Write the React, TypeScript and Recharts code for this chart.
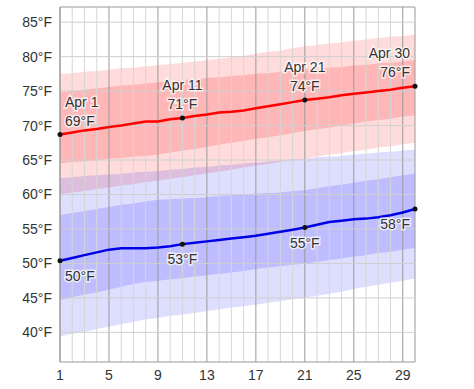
import React from 'react'
import {
  ComposedChart,
  Area,
  Line,
  XAxis,
  YAxis,
  ReferenceLine,
} from 'recharts'

// day of month (April)
const days = [1, 2, 3, 4, 5, 6, 7, 8, 9, 10, 11, 12, 13, 14, 15, 16, 17, 18, 19, 20, 21, 22, 23, 24, 25, 26, 27, 28, 29, 30]

// average daily high / low (°F)
const highAvg = [68.7, 69.0, 69.3, 69.5, 69.8, 70.0, 70.3, 70.6, 70.6, 70.9, 71.1, 71.4, 71.6, 71.9, 72.0, 72.2, 72.5, 72.8, 73.1, 73.4, 73.7, 73.9, 74.1, 74.4, 74.6, 74.8, 75.0, 75.2, 75.5, 75.7]
const lowAvg = [50.4, 50.8, 51.2, 51.6, 52.0, 52.2, 52.2, 52.2, 52.3, 52.5, 52.8, 53.0, 53.2, 53.4, 53.6, 53.8, 54.0, 54.3, 54.6, 54.9, 55.2, 55.6, 56.0, 56.2, 56.4, 56.5, 56.7, 57.0, 57.4, 57.9]

// percentile bands for the high
const high90 = [77.5, 77.6, 77.8, 77.9, 78.1, 78.3, 78.4, 78.6, 78.8, 78.9, 79.1, 79.3, 79.5, 79.7, 79.9, 80.1, 80.4, 80.7, 80.9, 81.2, 81.5, 81.7, 81.9, 82.1, 82.3, 82.5, 82.7, 82.9, 83.0, 83.2]
const high75 = [74.8, 75.0, 75.2, 75.4, 75.6, 75.8, 75.9, 76.1, 76.3, 76.4, 76.6, 76.7, 76.9, 77.0, 77.2, 77.3, 77.5, 77.6, 77.8, 77.9, 78.1, 78.2, 78.4, 78.5, 78.7, 78.8, 79.0, 79.1, 79.3, 79.5]
const high25 = [64.5, 64.7, 64.8, 65.0, 65.2, 65.3, 65.5, 65.6, 65.8, 66.1, 66.4, 66.6, 66.9, 67.2, 67.5, 67.8, 68.1, 68.3, 68.6, 68.9, 69.2, 69.5, 69.7, 70.0, 70.3, 70.6, 70.8, 71.0, 71.3, 71.5]
const high10 = [60.0, 60.3, 60.5, 60.8, 61.0, 61.3, 61.5, 61.8, 62.0, 62.3, 62.5, 62.8, 63.1, 63.3, 63.6, 63.9, 64.2, 64.4, 64.7, 65.0, 65.2, 65.5, 65.8, 66.0, 66.3, 66.5, 66.8, 67.0, 67.3, 67.5]

// percentile bands for the low
const low90 = [62.4, 62.5, 62.7, 62.8, 62.9, 63.0, 63.2, 63.3, 63.4, 63.6, 63.7, 63.9, 64.0, 64.2, 64.3, 64.5, 64.6, 64.8, 64.9, 65.1, 65.2, 65.4, 65.5, 65.6, 65.8, 65.9, 66.1, 66.2, 66.4, 66.5]
const low75 = [57.0, 57.3, 57.6, 57.9, 58.2, 58.5, 58.7, 59.0, 59.2, 59.3, 59.4, 59.5, 59.6, 59.8, 59.9, 60.0, 60.1, 60.2, 60.3, 60.5, 60.6, 60.9, 61.2, 61.4, 61.7, 62.0, 62.2, 62.5, 62.8, 63.0]
const low25 = [44.7, 45.1, 45.5, 45.8, 46.2, 46.6, 47.0, 47.3, 47.5, 47.7, 47.9, 48.1, 48.3, 48.5, 48.7, 48.9, 49.2, 49.4, 49.6, 49.8, 50.0, 50.2, 50.5, 50.7, 51.0, 51.2, 51.5, 51.7, 52.0, 52.2]
const low10 = [39.4, 39.8, 40.1, 40.5, 40.8, 41.2, 41.5, 41.9, 42.1, 42.4, 42.6, 42.8, 43.1, 43.3, 43.6, 43.8, 44.0, 44.3, 44.5, 44.8, 45.0, 45.3, 45.6, 45.9, 46.3, 46.6, 46.9, 47.2, 47.5, 47.8]

const xTicks = [1, 5, 9, 13, 17, 21, 25, 29]
const yTicks = [40, 45, 50, 55, 60, 65, 70, 75, 80, 85]
const labelDays = [1, 11, 21, 30]

const Y_MIN = 35.7
const Y_MAX = 87.2

const data = days.map((d, i) => ({
  day: d,
  high: highAvg[i],
  low: lowAvg[i],
  highOuter: [high10[i], high90[i]],
  highInner: [high25[i], high75[i]],
  lowOuter: [low10[i], low90[i]],
  lowInner: [low25[i], low75[i]],
}))

const FONT = '"Liberation Sans", Arial, sans-serif'

const haloText = (x: number, y: number, text: string, anchor: 'start' | 'middle' | 'end') => (
  <text
    key={text + y}
    x={x}
    y={y}
    textAnchor={anchor}
    fontSize={14}
    fontFamily={FONT}
    fill="#333"
    stroke="#fff"
    strokeWidth={3}
    strokeOpacity={0.7}
    paintOrder="stroke"
  >
    {text}
  </text>
)

const anchorFor = (day: number) => (day === 1 ? 'start' : day === 30 ? 'end' : 'middle')
const dxFor = (day: number) => (day === 1 ? 5 : day === 30 ? -5 : 0)

// dot + "Apr N / xx°F" above the high line
const HighDot = (props: any) => {
  const { cx, cy, payload } = props
  if (!labelDays.includes(payload.day)) return <g key={`hd-${payload.day}`} />
  const a = anchorFor(payload.day)
  const x = cx + dxFor(payload.day)
  return (
    <g key={`hd-${payload.day}`}>
      {haloText(x, cy - 28, `Apr ${payload.day}`, a)}
      {haloText(x, cy - 9, `${Math.round(payload.high)}°F`, a)}
      <circle cx={cx} cy={cy} r={2.5} fill="#111" />
    </g>
  )
}

// dot + "xx°F" below the low line
const LowDot = (props: any) => {
  const { cx, cy, payload } = props
  if (!labelDays.includes(payload.day)) return <g key={`ld-${payload.day}`} />
  const a = anchorFor(payload.day)
  const x = cx + dxFor(payload.day)
  return (
    <g key={`ld-${payload.day}`}>
      {haloText(x, cy + 20, `${Math.round(payload.low)}°F`, a)}
      <circle cx={cx} cy={cy} r={2.5} fill="#111" />
    </g>
  )
}

export default function App() {
  return (
    <div style={{ position: 'absolute', left: 0, top: 0, width: 474, height: 389, background: '#fff' }}>
      <ComposedChart
        width={474}
        height={389}
        data={data}
        margin={{ top: 7, right: 59, bottom: 0, left: 5 }}
      >
        <XAxis
          dataKey="day"
          type="number"
          domain={[1, 30]}
          ticks={xTicks}
          tickLine={false}
          axisLine={{ stroke: '#999' }}
          tick={{ fill: '#333', fontSize: 14, fontFamily: FONT }}
          height={27}
          interval={0}
        />
        <YAxis
          type="number"
          domain={[Y_MIN, Y_MAX]}
          ticks={yTicks}
          tickFormatter={(v: number) => `${v}°F`}
          tickLine={false}
          axisLine={{ stroke: '#999' }}
          tick={{ fill: '#333', fontSize: 14, fontFamily: FONT }}
          width={55}
          interval={0}
        />

        {/* grid */}
        {days.map((d) => (
          <ReferenceLine
            key={`vx-${d}`}
            x={d}
            stroke={xTicks.includes(d) || d === 30 ? '#999' : '#d6d6d6'}
            strokeWidth={1}
          />
        ))}
        {yTicks.map((v) => (
          <ReferenceLine key={`hy-${v}`} y={v} stroke="#cfcfcf" strokeWidth={1} />
        ))}
        <ReferenceLine y={Y_MAX} stroke="#999" />

        {/* percentile bands */}
        <Area dataKey="highOuter" type="monotone" stroke="none" fill="#ff0000" fillOpacity={0.14} isAnimationActive={false} />
        <Area dataKey="highInner" type="monotone" stroke="none" fill="#ff0000" fillOpacity={0.17} isAnimationActive={false} />
        <Area dataKey="lowOuter" type="monotone" stroke="none" fill="#0000ff" fillOpacity={0.13} isAnimationActive={false} />
        <Area dataKey="lowInner" type="monotone" stroke="none" fill="#0000ff" fillOpacity={0.15} isAnimationActive={false} />

        <Line dataKey="high" type="linear" stroke="#ff0000" strokeWidth={2.5} dot={HighDot} activeDot={false} isAnimationActive={false} />
        <Line dataKey="low" type="linear" stroke="#0000e6" strokeWidth={2.5} dot={LowDot} activeDot={false} isAnimationActive={false} />
      </ComposedChart>
    </div>
  )
}
